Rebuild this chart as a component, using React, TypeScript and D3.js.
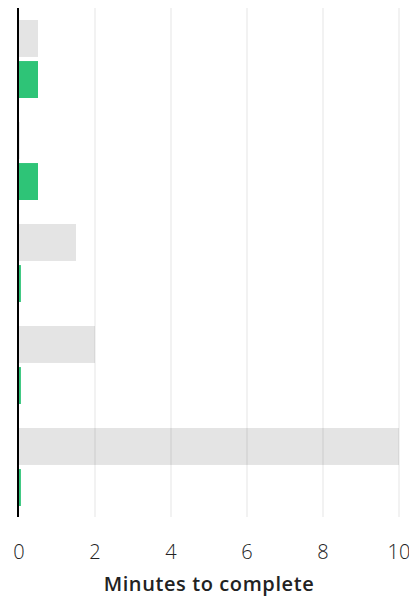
import React from "react";
import * as d3 from "d3";

const categories = ["Task 1", "Task 2", "Task 3", "Task 4", "Task 5"];
const beforeValues = [0.5, 0.02, 1.5, 2, 10];
const afterValues = [0.5, 0.5, 0.05, 0.05, 0.05];
const xTicks = [0, 2, 4, 6, 8, 10];
const xTitle = "Minutes to complete";

const W = 409;
const H = 597;

export default function App() {
  const x = d3.scaleLinear().domain([0, 10]).range([19, 399]);
  const y = d3.scaleBand<string>().domain(categories).range([8, 518]).paddingInner(0).paddingOuter(0);
  const inner = d3.scaleBand<string>().domain(["before", "after"]).range([12, y.bandwidth() - 12]).paddingInner(0.1);
  const top = 8;
  const bottom = 517;
  const font = "'Open Sans', 'Noto Sans', sans-serif";
  return (
    <svg width={W} height={H} style={{ position: "absolute", left: 0, top: 0, background: "#fff" }}>
      {categories.map((c, i) => (
        <g key={c} transform={`translate(0,${y(c)})`}>
          <rect x={x(0)} y={inner("before")} width={x(beforeValues[i]) - x(0)} height={inner.bandwidth()} fill="#e4e4e4" />
          <rect x={x(0)} y={inner("after")} width={x(afterValues[i]) - x(0)} height={inner.bandwidth()} fill="#2ec477" />
        </g>
      ))}
      {xTicks.filter((t) => t !== 0).map((t) => (
        <line key={t} x1={x(t)} x2={x(t)} y1={top} y2={bottom} stroke="rgba(0,0,0,0.09)" strokeWidth={1.2} />
      ))}
      <line x1={x(0) - 1} x2={x(0) - 1} y1={top} y2={bottom} stroke="#000" strokeWidth={2} />
      {xTicks.map((t) => (
        <text key={t} x={x(t)} y={559} textAnchor="middle" fontFamily={font} fontWeight={300} fontSize={20} fill="#222">
          {t}
        </text>
      ))}
      <text x={209} y={591} textAnchor="middle" fontFamily={font} fontWeight={600} fontSize={20} letterSpacing={0.6} fill="#222">
        {xTitle}
      </text>
    </svg>
  );
}
